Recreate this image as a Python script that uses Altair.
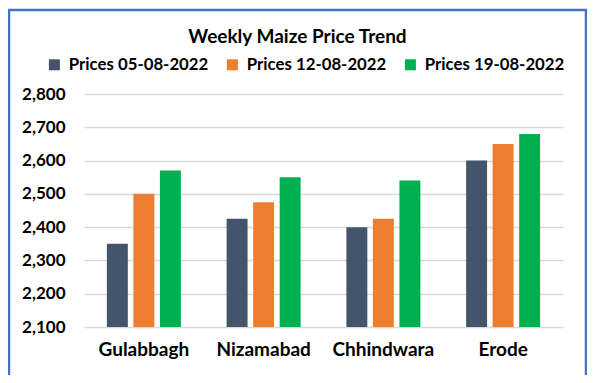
import altair as alt
import pandas as pd

markets = ["Gulabbagh", "Nizamabad", "Chhindwara", "Erode"]
series = ["Prices 05-08-2022", "Prices 12-08-2022", "Prices 19-08-2022"]
prices_05 = [2350, 2425, 2400, 2600]
prices_12 = [2500, 2475, 2425, 2650]
prices_19 = [2570, 2550, 2540, 2680]
colors = ["#44546A", "#ED7D31", "#00B050"]
title_text = "Weekly Maize Price Trend"

rows = []
for s, vals in zip(series, [prices_05, prices_12, prices_19]):
    for m, v in zip(markets, vals):
        rows.append({"Market": m, "Series": s, "Price": v})
df = pd.DataFrame(rows)

FONT = "Lato"
W, H = 479, 233

bars = alt.Chart(df).mark_bar(clip=True).encode(
    x=alt.X("Market:N", sort=markets,
            scale=alt.Scale(paddingInner=0.382, paddingOuter=0.191),
            axis=alt.Axis(title=None, labelAngle=0, labelFont=FONT, labelFontSize=19,
                          labelFontWeight="bold", labelColor="#000000", labelPadding=13,
                          domain=False, ticks=False)),
    xOffset=alt.XOffset("Series:N", sort=series, scale=alt.Scale(paddingInner=0.21)),
    y=alt.Y("Price:Q", scale=alt.Scale(domain=[2100, 2800], nice=False, zero=False),
            axis=alt.Axis(title=None, values=list(range(2100, 2801, 100)),
                          labelExpr="format(datum.value, ',')",
                          labelFont=FONT, labelFontSize=17, labelFontWeight="bold",
                          labelColor="#000000", labelPadding=19, domain=False, ticks=False,
                          grid=True, gridColor="#D9D9D9", gridWidth=1.6)),
    color=alt.Color("Series:N", sort=series,
                    scale=alt.Scale(domain=series, range=colors),
                    legend=alt.Legend(title=None, orient="none", direction="horizontal",
                                      legendX=-38, legendY=-38, padding=0,
                                      symbolType="square", symbolSize=121,
                                      symbolStrokeWidth=0, labelOffset=6,
                                      columnPadding=15, labelFont=FONT,
                                      labelFontSize=16.8, labelFontWeight="bold",
                                      labelColor="#000000")),
)

title_df = pd.DataFrame({"t": [title_text]})
title = alt.Chart(title_df).mark_text(
    font=FONT, fontSize=19, fontWeight="bold", color="#000000",
    align="center", baseline="alphabetic"
).encode(text="t:N", x=alt.value(213.5), y=alt.value(-51))

border = alt.Chart(title_df).mark_rect(
    fillOpacity=0, stroke="#4472C4", strokeWidth=2.5, clip=False
).encode(x=alt.value(-75), x2=alt.value(502), y=alt.value(-84), y2=alt.value(285))

chart = alt.layer(bars, title, border).properties(
    width=W, height=H,
    padding={"left": 76, "top": 86, "right": 24, "bottom": 48},
    autosize=alt.AutoSizeParams(type="none"),
    background="white",
).configure_view(stroke=None)

chart.save("out.html", embed_options={"renderer": "svg", "actions": False})
